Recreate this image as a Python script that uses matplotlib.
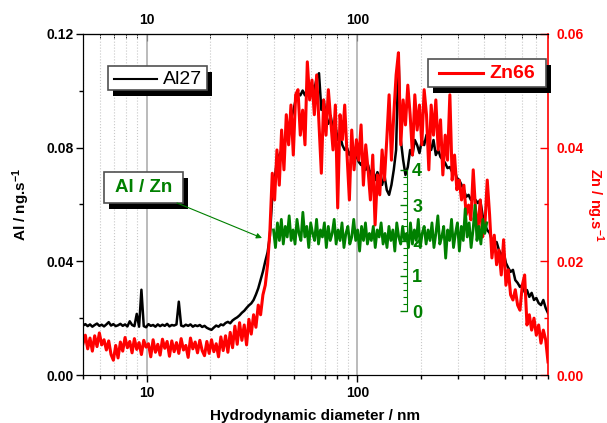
import matplotlib
matplotlib.use('Agg')
import matplotlib.pyplot as plt
import numpy as np
from matplotlib.patches import Rectangle
from matplotlib.ticker import (FuncFormatter, NullFormatter, MultipleLocator,
                               LogLocator, FixedLocator)

plt.rcParams['font.family'] = ['Liberation Sans', 'DejaVu Sans']
plt.rcParams['font.weight'] = 'bold'
plt.rcParams['axes.labelweight'] = 'bold'
plt.rcParams['mathtext.fontset'] = 'custom'
plt.rcParams['mathtext.bf'] = 'Liberation Sans:bold'
plt.rcParams['mathtext.rm'] = 'Liberation Sans:bold'
plt.rcParams['mathtext.default'] = 'bf'

# Al27 signal in 1e-3 ng/s, evenly spaced on log(d) 5..800 nm
al27 = [
    17.4, 17.9, 17.2, 17.8, 17.0, 17.6, 18.1, 17.3, 17.7, 17.1,
    17.8, 18.6, 17.4, 17.9, 17.2, 17.5, 18.0, 17.3, 17.8, 17.1,
    18.9, 17.6, 17.2, 21.5, 17.0, 30.0, 17.2, 16.8, 17.9, 17.3,
    17.6, 17.0, 17.8, 17.2, 17.7, 17.3, 18.0, 17.1, 17.6, 17.4,
    17.8, 25.8, 17.4, 17.1, 17.7, 17.3, 17.8, 17.0, 17.5, 17.2,
    17.6, 16.9, 17.3, 16.6, 16.2, 15.9, 16.7, 17.4, 17.0, 17.8,
    17.5, 18.3, 18.7, 18.2, 19.2, 19.8, 20.3, 21.0, 21.9, 22.6,
    23.6, 24.5, 25.2, 26.4, 28.3, 30.5, 33.4, 36.4, 40.0, 43.2,
    49.0, 62.7, 68.6, 75.7, 77.4, 79.1, 80.1, 84.5, 88.0, 89.8,
    93.0, 96.8, 99.1, 98.4, 100.1, 98.4, 101.0, 99.7, 102.1, 100.4,
    104.5, 106.2, 93.3, 96.8, 90.2, 88.4, 91.2, 86.3, 88.0, 82.7,
    84.5, 80.9, 79.2, 79.9, 77.4, 79.2, 75.7, 77.4, 75.0, 73.9,
    76.3, 72.2, 73.9, 70.4, 72.8, 68.6, 71.4, 69.3, 66.9, 70.4,
    65.1, 63.4, 66.9, 72.2, 79.2, 113.3, 82.7, 75.7, 70.4, 73.2,
    79.2, 77.4, 82.7, 80.9, 78.1, 82.7, 80.9, 84.5, 81.6, 79.2,
    82.7, 77.4, 79.2, 76.7, 75.7, 74.6, 72.8, 73.2, 71.4, 72.2,
    69.3, 68.6, 66.9, 65.1, 62.7, 63.4, 61.6, 62.3, 61.6, 60.5,
    61.6, 56.3, 52.8, 51.0, 50.0, 47.5, 45.8, 46.8, 44.0, 42.2,
    43.3, 39.4, 37.7, 36.3, 37.0, 33.4, 32.4, 31.0, 31.7, 29.2,
    29.9, 27.5, 28.9, 26.4, 27.1, 25.3, 24.6, 26.4, 23.6, 21.8,
]

# Zn66 signal in 1e-3 ng/s, same sampling
zn66 = [
    5.5, 7.0, 4.6, 6.5, 4.2, 6.9, 5.0, 7.4, 5.3, 6.2,
    4.4, 6.0, 3.6, 2.6, 5.2, 3.0, 5.8, 4.2, 6.6, 4.8,
    5.9, 3.9, 6.4, 4.5, 5.7, 3.6, 6.1, 4.9, 5.5, 3.2,
    6.2, 4.0, 5.4, 3.5, 6.3, 4.7, 5.9, 3.3, 6.0, 4.1,
    5.7, 3.8, 6.4, 4.4, 5.2, 3.1, 6.5, 4.6, 5.8, 3.9,
    6.1, 4.3, 3.4, 5.9, 3.8, 6.2, 4.1, 5.5, 3.2, 6.7,
    4.3, 6.9, 4.0, 7.5, 4.8, 8.6, 5.4, 9.2, 6.1, 8.8,
    5.3, 9.8, 7.2, 10.6, 8.4, 12.3, 10.6, 14.1, 15.8, 19.4,
    25.5, 35.5, 30.8, 39.6, 33.4, 43.1, 36.1, 45.8, 40.5, 47.5,
    38.7, 49.3, 50.2, 42.2, 46.6, 40.5, 55.1, 48.4, 51.9, 45.8,
    52.8, 44.0, 35.5, 48.4, 42.2, 50.2, 44.9, 39.6, 47.5, 29.4,
    45.8, 41.4, 47.5, 38.7, 30.8, 43.1, 36.1, 41.4, 37.8, 44.0,
    33.4, 40.5, 36.1, 30.8, 38.7, 26.4, 35.2, 31.7, 39.6, 34.3,
    41.4, 49.3, 37.8, 45.8, 52.8, 56.7, 40.5, 48.4, 44.0, 51.0,
    45.8, 38.7, 49.3, 43.1, 47.5, 40.5, 50.2, 45.8, 36.1, 47.5,
    42.2, 48.4, 39.6, 44.9, 35.2, 42.2, 37.8, 49.3, 34.3, 38.7,
    32.6, 34.3, 30.8, 33.4, 28.2, 29.9, 27.3, 36.1, 29.0, 25.5,
    30.8, 24.3, 26.4, 34.3, 28.2, 20.6, 24.6, 19.4, 22.0, 17.6,
    23.8, 15.8, 18.5, 14.1, 13.2, 15.0, 12.3, 11.4, 15.8, 17.6,
    8.8, 10.6, 7.9, 10.0, 7.0, 8.8, 5.6, 7.9, 6.2, 2.3,
]

# Al / Zn ratio, evenly spaced on log(d) 40..410 nm
ratio = [
    2.3, 1.8, 2.5, 2.0, 2.6, 1.9, 2.4, 2.1, 2.7, 2.0,
    2.3, 1.9, 2.6, 2.2, 2.0, 2.8, 2.1, 2.4, 1.8, 2.5,
    2.2, 2.0, 2.6, 1.9, 2.3, 2.1, 2.5, 1.8, 2.4, 2.0,
    2.2, 2.6, 1.9, 2.3, 2.0, 2.5, 1.8, 2.2, 2.4, 1.9,
    2.1, 2.6, 2.0, 2.3, 1.7, 2.4, 2.0, 2.5, 1.9, 2.2,
    2.0, 2.4, 1.8, 2.3, 2.1, 2.5, 1.9, 2.2, 1.8, 2.4,
    2.0, 2.3, 1.7, 2.5, 2.1, 1.9, 2.4, 2.0, 2.2, 1.8,
    2.5, 1.9, 2.3, 2.0, 2.6, 1.8, 2.2, 2.4, 1.9, 2.3,
    2.0, 2.5, 1.8, 2.2, 2.7, 1.9, 2.1, 2.4, 1.5, 2.3,
    2.0, 2.6, 1.8, 2.2, 2.5, 1.7, 2.4, 2.0, 2.9, 2.1,
    2.5, 1.8, 2.3, 3.0, 2.0, 2.4, 1.9, 2.6, 2.2, 2.5,
]

d_main = np.geomspace(5, 800, len(al27))
d_ratio = np.geomspace(40, 410, len(ratio))

GREEN = '#008000'


def x_label(val, _):
    return f'{val:g}'


fig = plt.figure(figsize=(6.07, 4.23), dpi=100)
ax = fig.add_axes([83 / 607, 48 / 423, 465 / 607, 341 / 423])

# grid behind everything
ax.set_xscale('log')
ax.set_xlim(5, 800)
ax.set_ylim(0, 0.12)
ax.xaxis.set_major_locator(FixedLocator([10, 100]))
ax.xaxis.set_minor_locator(LogLocator(subs=range(2, 10)))
ax.xaxis.set_major_formatter(FuncFormatter(x_label))
ax.xaxis.set_minor_formatter(NullFormatter())
ax.grid(which='major', axis='x', color='#a8a8a8', lw=1.1, ls='-')
ax.grid(which='minor', axis='x', color='#c8c8c8', lw=0.8, ls=':')
ax.set_axisbelow(True)

ax.plot(d_main, np.array(al27) / 1000, color='black', lw=1.8)

ax.set_yticks([0, 0.04, 0.08, 0.12])
ax.yaxis.set_minor_locator(MultipleLocator(0.02))
ax.yaxis.set_major_formatter(FuncFormatter(lambda v, _: f'{v:.2f}'))
ax.tick_params(axis='y', which='major', direction='out', length=5, width=1,
               labelsize=10, pad=2)
ax.tick_params(axis='y', which='minor', direction='out', length=3, width=1)
ax.tick_params(axis='x', which='major', direction='out', length=5, width=1,
               labelsize=10, pad=3)
ax.tick_params(axis='x', which='minor', direction='out', length=3, width=1)
ax.spines['right'].set_visible(False)
ax.set_ylabel(r'Al / ng.s$^{-1}$', fontsize=11, fontweight='bold',
              labelpad=10)

top = ax.secondary_xaxis('top')
top.xaxis.set_major_locator(FixedLocator([10, 100]))
top.xaxis.set_minor_locator(LogLocator(subs=range(2, 10)))
top.xaxis.set_major_formatter(FuncFormatter(x_label))
top.xaxis.set_minor_formatter(NullFormatter())
top.tick_params(which='major', direction='in', length=5, labelsize=10, pad=5)
top.tick_params(which='minor', direction='in', length=3)

# Zn66 on the right axis
ax2 = ax.twinx()
ax2.plot(d_main, np.array(zn66) / 1000, color='red', lw=2.2)
ax2.set_ylim(0, 0.06)
ax2.set_yticks([0, 0.02, 0.04, 0.06])
ax2.yaxis.set_minor_locator(MultipleLocator(0.01))
ax2.yaxis.set_major_formatter(FuncFormatter(lambda v, _: f'{v:.2f}'))
ax2.tick_params(axis='y', which='major', direction='in', length=6, width=1,
                colors='red', labelsize=10, pad=6)
ax2.tick_params(axis='y', which='minor', direction='in', length=3, width=1,
                colors='red')
ax2.spines['right'].set_color('red')
ax2.spines['right'].set_linewidth(1.2)
ax2.set_ylabel(r'Zn / ng.s$^{-1}$', fontsize=10.5, fontweight='bold',
               color='red', rotation=270, va='bottom', labelpad=0)

# Al / Zn ratio with its own small axis inside the plot
ax3 = ax.twinx()
ax3.plot(d_ratio, ratio, color=GREEN, lw=2.0)
ax3.set_ylim(-1.81, 7.85)
for side in ['left', 'top', 'bottom']:
    ax3.spines[side].set_visible(False)
ax3.spines['right'].set_position(('data', 171))
ax3.spines['right'].set_bounds(0, 4)
ax3.spines['right'].set_color(GREEN)
ax3.yaxis.set_major_locator(FixedLocator([0, 1, 2, 3, 4]))
ax3.yaxis.set_minor_locator(FixedLocator(np.arange(0, 4.01, 0.2)))
ax3.tick_params(axis='y', which='major', direction='in', length=5, width=1,
                colors=GREEN, labelsize=13, pad=4)
ax3.tick_params(axis='y', which='minor', direction='in', length=3, width=0.8,
                colors=GREEN)

fig.text(315.5 / 607, 1 - 409 / 423, 'Hydrodynamic diameter / nm',
         ha='center', va='top', fontsize=11, weight='bold')

# boxed labels with solid drop shadows, drawn in pixel space
ov = fig.add_axes([0, 0, 1, 1], zorder=10)
ov.set_xlim(0, 607)
ov.set_ylim(423, 0)
ov.axis('off')


def shadow_box(x0, y0, x1, y1):
    ov.add_patch(Rectangle((x0 + 5, y0 + 6), x1 - x0, y1 - y0,
                           facecolor='black', edgecolor='none'))
    ov.add_patch(Rectangle((x0, y0), x1 - x0, y1 - y0, facecolor='white',
                           edgecolor='#505050', lw=1.2))


shadow_box(108, 66, 207, 90)
ov.plot([114, 157], [79, 79], color='black', lw=1.5)
ov.text(163, 79, 'Al27', fontsize=14, weight='normal', va='center')

shadow_box(428, 59, 546, 87)
ov.plot([439, 483], [73, 73], color='red', lw=2.2)
ov.text(489, 73, 'Zn66', fontsize=14, color='red', va='center')

shadow_box(104, 172, 183, 203)
ov.text(143.5, 188, 'Al / Zn', fontsize=13.5, color=GREEN, ha='center',
        va='center')
ov.annotate('', xy=(262, 238), xytext=(177, 203),
            arrowprops=dict(arrowstyle='-|>', color=GREEN, lw=0.8,
                            mutation_scale=8, shrinkA=0, shrinkB=0))

fig.savefig('out.png', dpi=100)
